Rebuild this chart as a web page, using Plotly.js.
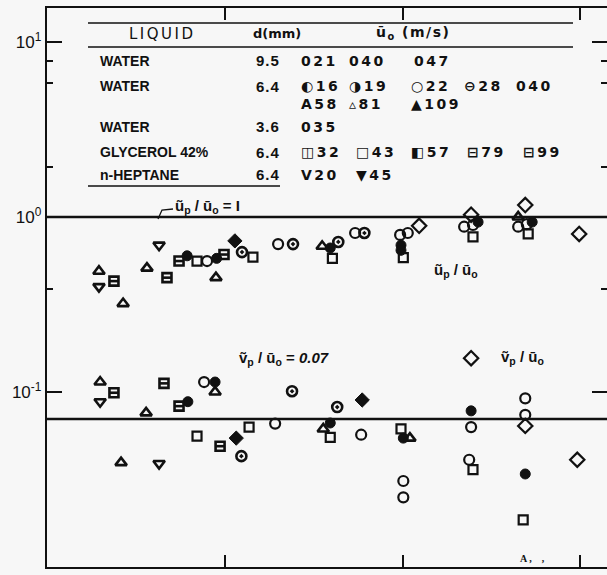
<!DOCTYPE html>
<html>
<head>
<meta charset="utf-8">
<script src="https://cdn.plot.ly/plotly-3.0.1.min.js"></script>
<style>html,body{margin:0;padding:0;background:#f7f7f7;}</style>
</head>
<body>
<div id="chart" style="width:607px;height:575px;"></div>
<script>
// ---------- DATA ----------
// Reference lines
const refLines = [1, 0.07];

// Axis ticks
const yTickVals = [0.01, 0.1, 1, 10];
const yTickText = ['10<sup>-2</sup>', '10<sup>-1</sup>', '10<sup>0</sup>', '10<sup>1</sup>'];
const yMinorVals = [0.39, 1.93, 5.8, 7.8];
const xTickVals = [10, 100, 1000];

// Upper group: u_p / u_o
const upCircOpenX = [7.95, 19.95, 54.1, 96.9, 107, 222, 249, 447, 500];
const upCircOpenY = [0.56, 0.70, 0.81, 0.79, 0.81, 0.88, 0.90, 0.88, 0.91];
const upCircFillX = [6.14, 9.0, 39.2, 98, 98, 266, 536];
const upCircFillY = [0.60, 0.58, 0.665, 0.69, 0.645, 0.935, 0.935];
const upCircHalfX = [12.5, 24.2, 43.5, 61.0];
const upCircHalfY = [0.63, 0.70, 0.72, 0.81];
const upSqOpenX = [6.98, 14.4, 40.3, 101, 249, 509];
const upSqOpenY = [0.56, 0.59, 0.58, 0.585, 0.77, 0.80];
const upSqBarX = [2.38, 4.73, 5.53, 9.9];
const upSqBarY = [0.43, 0.45, 0.56, 0.61];
const upTriUpX = [1.96, 2.68, 3.65, 8.92, 35.3, 447];
const upTriUpY = [0.49, 0.32, 0.51, 0.45, 0.68, 1.0];
const upTriDnX = [1.96, 4.27];
const upTriDnY = [0.40, 0.69];
const upDiaOpenX = [124, 243, 490, 985];
const upDiaOpenY = [0.89, 1.03, 1.17, 0.80];
const upDiaFillX = [11.4];
const upDiaFillY = [0.73];

// Lower group: v_p / u_o
const loCircOpenX = [7.65, 19.2, 58.5, 101, 101, 243, 237, 490, 490];
const loCircOpenY = [0.114, 0.066, 0.057, 0.031, 0.025, 0.063, 0.041, 0.092, 0.074];
const loCircFillX = [6.2, 8.82, 39.2, 101, 243, 490];
const loCircFillY = [0.088, 0.114, 0.0665, 0.0545, 0.078, 0.034];
const loCircHalfX = [12.4, 23.9, 42.9];
const loCircHalfY = [0.043, 0.101, 0.082];
const loSqOpenX = [6.98, 13.7, 39.2, 98, 249, 477];
const loSqOpenY = [0.056, 0.063, 0.055, 0.0615, 0.036, 0.0186];
const loSqBarX = [2.38, 4.55, 5.53, 9.41];
const loSqBarY = [0.099, 0.112, 0.083, 0.049];
const loTriUpX = [1.99, 3.61, 8.82, 2.61, 35.8, 110];
const loTriUpY = [0.114, 0.076, 0.10, 0.0395, 0.0615, 0.0545];
const loTriDnX = [1.99, 4.27];
const loTriDnY = [0.088, 0.039];
const loDiaOpenX = [490, 961, 243];
const loDiaOpenY = [0.064, 0.041, 0.156];
const loDiaFillX = [11.6, 59.3];
const loDiaFillY = [0.0545, 0.090];

// Legend table text
const legHeader = ['LIQUID', 'd(mm)', 'ū<sub>o</sub> (m/s)'];
const legLiquids = ['WATER', 'WATER', 'WATER', 'GLYCEROL 42%', 'n-HEPTANE'];
const legDiam = ['9.5', '6.4', '3.6', '6.4', '6.4'];
const legRow1 = ['021', '040', '047'];
const legRow2 = ['◐16', '◑19', '○22', '⊖28', '040'];
const legRow2b = ['A58', '▵81', '▲109'];
const legRow3 = ['035'];
const legRow4 = ['◫32', '□43', '◧57', '⊟79', '⊟99'];
const legRow5 = ['V20', '▼45'];

// ---------- DRAWING ----------
const INK = '#111';
const W = 607, H = 575;
const M = {l: 47, r: 0, t: 8, b: 8};
const PW = W - M.l - M.r, PH = H - M.t - M.b;
const pxX = x => (x - M.l) / PW;
const pxY = y => (H - M.b - y) / PH;

function mk(x, y, symbol, size, lw) {
  return {x: x, y: y, type: 'scatter', mode: 'markers', showlegend: false, hoverinfo: 'skip',
    marker: {symbol: symbol, size: size, color: INK, line: {color: INK, width: lw}}};
}
const cat = (a, b) => a.concat(b);

const traces = [
  mk(cat(upCircOpenX, loCircOpenX), cat(upCircOpenY, loCircOpenY), 'circle-open', 10, 2.2),
  mk(cat(upCircFillX, loCircFillX), cat(upCircFillY, loCircFillY), 'circle', 10, 1),
  mk(cat(upCircHalfX, loCircHalfX), cat(upCircHalfY, loCircHalfY), 'circle-open-dot', 10, 2.6),
  mk(cat(upSqOpenX, loSqOpenX), cat(upSqOpenY, loSqOpenY), 'square-open', 9, 2.2),
  mk(cat(upSqBarX, loSqBarX), cat(upSqBarY, loSqBarY), 'square-open', 9, 2.6),
  mk(cat(upSqBarX, loSqBarX), cat(upSqBarY, loSqBarY), 'line-ew-open', 6, 2.6),
  mk(cat(upTriUpX, loTriUpX), cat(upTriUpY, loTriUpY), 'triangle-up-open', 10, 2.6),
  mk(cat(upTriDnX, loTriDnX), cat(upTriDnY, loTriDnY), 'triangle-down-open', 10, 2.6),
  mk(cat(upDiaOpenX, loDiaOpenX), cat(upDiaOpenY, loDiaOpenY), 'diamond-open', 11, 2.2),
  mk(cat(upDiaFillX, loDiaFillX), cat(upDiaFillY, loDiaFillY), 'diamond', 11, 1)
];

const shapes = refLines.map(v => ({type: 'line', xref: 'paper', yref: 'y', x0: 0, x1: 1, y0: v, y1: v,
  line: {color: INK, width: 2.5}}));
// legend table rules
[[23, 88, 573], [47, 88, 573], [186, 88, 280]].forEach(r => {
  shapes.push({type: 'line', xref: 'paper', yref: 'paper', x0: pxX(r[1]), x1: pxX(r[2]),
    y0: pxY(r[0]), y1: pxY(r[0]), line: {color: INK, width: 1.6}});
});
// leader from label to unity line
shapes.push({type: 'path', xref: 'paper', yref: 'paper',
  path: `M ${pxX(158)} ${pxY(219)} L ${pxX(162)} ${pxY(210)} L ${pxX(173)} ${pxY(209)}`,
  line: {color: INK, width: 1.3}});

const annotations = [];
function ann(text, x, y, size, family, weight) {
  annotations.push({text: text, xref: 'paper', yref: 'paper', x: pxX(x), y: pxY(y),
    xanchor: 'left', yanchor: 'middle', showarrow: false, borderpad: 0,
    font: {family: family || 'Liberation Sans, Arial, sans-serif', size: size, color: INK,
      weight: weight === undefined ? 700 : weight}});
}
const DJ = 'DejaVu Sans, sans-serif';
const sp = (t, s) => `<span style="letter-spacing:${s}px">${t}</span>`;

// header
ann(sp(legHeader[0], 2.5), 128, 34, 15, 'DejaVu Sans', 400);
ann(legHeader[1], 252, 34, 13, DJ);
ann(sp(legHeader[2], 1.5), 375, 33, 14, DJ);
// liquid column
const rowY = [61, 86, 127, 152, 175];
legLiquids.forEach((t, i) => ann(t, 99, rowY[i], 14));
legDiam.forEach((t, i) => ann(sp(t, 1), 255, rowY[i], 15));
// velocity entries
const put = (arr, xs, y) => arr.forEach((t, i) => ann(sp(t, 2.5), xs[i], y, 14, DJ));
put(legRow1, [300, 348, 413], 61);
put(legRow2, [300, 348, 410, 463, 515], 86);
put(legRow2b, [300, 348, 410], 104);
put(legRow3, [300], 127);
put(legRow4, [300, 355, 410, 466, 522], 152);
put(legRow5, [300, 355], 175);

// in-plot labels
ann('ũ<sub>p</sub> / ū<sub>o</sub> = I', 174, 206, 15);
ann('ũ<sub>p</sub> / ū<sub>o</sub>', 433, 270, 15);
ann('ṽ<sub>p</sub> / ū<sub>o</sub> = <i>0.07</i>', 238, 358, 15);
ann('ṽ<sub>p</sub> / ū<sub>o</sub>', 500, 357, 15);
ann('A ,    ,', 519, 558, 10, 'Liberation Serif', 700);

const layout = {
  width: W, height: H,
  margin: M,
  paper_bgcolor: '#f7f7f7', plot_bgcolor: '#f7f7f7',
  font: {family: 'Liberation Sans, Arial, sans-serif', color: INK},
  showlegend: false,
  xaxis: {type: 'log', range: [0, 3.15], showline: true, linecolor: INK, linewidth: 2.2, mirror: 'ticks',
    tickmode: 'array', tickvals: xTickVals, ticks: 'inside', ticklen: 12, tickwidth: 2, tickcolor: INK,
    showticklabels: false, showgrid: false, zeroline: false},
  yaxis: {type: 'log', range: [-2, 1.194], showline: true, linecolor: INK, linewidth: 2.2, mirror: 'ticks',
    tickmode: 'array', tickvals: yTickVals, ticktext: yTickText, ticks: 'inside', ticklen: 15, tickwidth: 2.5,
    tickcolor: INK, tickfont: {size: 17, color: INK, family: 'Liberation Sans'}, showgrid: false, zeroline: false,
    minor: {tickmode: 'array', tickvals: yMinorVals, ticks: 'inside', ticklen: 6, tickwidth: 2, tickcolor: INK, showgrid: false}},
  shapes: shapes,
  annotations: annotations
};

Plotly.newPlot('chart', traces, layout, {displayModeBar: false, staticPlot: true});
</script>
</body>
</html>
